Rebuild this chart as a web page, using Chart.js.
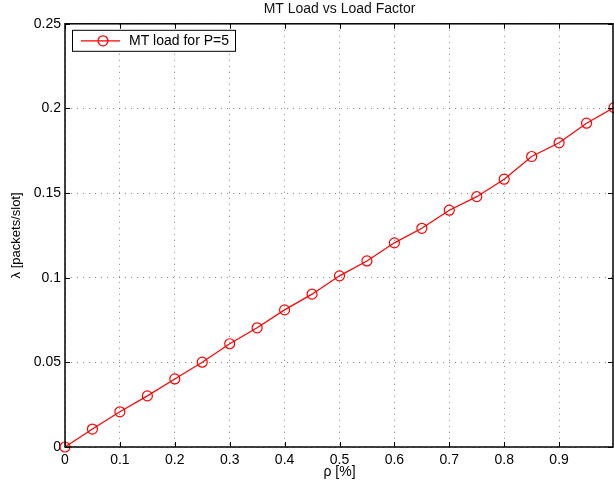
<!DOCTYPE html>
<html>
<head>
<meta charset="utf-8">
<script src="https://cdn.jsdelivr.net/npm/chart.js@4/dist/chart.umd.min.js"></script>
<style>
  html, body { margin: 0; padding: 0; background: #fff; overflow: hidden; }
  #wrap { width: 614px; height: 481px; position: relative; }
</style>
</head>
<body>
<div id="wrap"><canvas id="myChart"></canvas></div>
<script>
  const rho = [0, 0.05, 0.1, 0.15, 0.2, 0.25, 0.3, 0.35, 0.4, 0.45, 0.5,
               0.55, 0.6, 0.65, 0.7, 0.75, 0.8, 0.85, 0.9, 0.95, 1.0];
  const mtLoad = [0, 0.0106, 0.0208, 0.0302, 0.0402, 0.0501, 0.061, 0.0704, 0.081, 0.0903, 0.1011,
                  0.1099, 0.1206, 0.1292, 0.1399, 0.1479, 0.1582, 0.1716, 0.1797, 0.1913, 0.2005];
  const xTicks = [0, 0.1, 0.2, 0.3, 0.4, 0.5, 0.6, 0.7, 0.8, 0.9];
  const yTicks = [0, 0.05, 0.1, 0.15, 0.2, 0.25];

  const font = { family: '"Liberation Sans", Arial, sans-serif', size: 14 };

  // box round the axes, inward ticks and the legend in the top left corner
  const matlabFrame = {
    id: 'matlabFrame',
    afterDraw(chart) {
      const { ctx, chartArea: a, scales: { x, y } } = chart;
      ctx.save();
      ctx.strokeStyle = '#000';
      ctx.lineWidth = 1.5;
      ctx.strokeRect(a.left, a.top, a.right - a.left - 1, a.bottom - a.top);

      ctx.lineWidth = 1;
      ctx.beginPath();
      xTicks.forEach(v => {
        const px = Math.round(x.getPixelForValue(v)) + 0.5;
        ctx.moveTo(px, a.bottom); ctx.lineTo(px, a.bottom - 5);
        ctx.moveTo(px, a.top); ctx.lineTo(px, a.top + 5);
      });
      yTicks.forEach(v => {
        const py = Math.round(y.getPixelForValue(v)) + 0.5;
        ctx.moveTo(a.left, py); ctx.lineTo(a.left + 5, py);
        ctx.moveTo(a.right - 1, py); ctx.lineTo(a.right - 6, py);
      });
      ctx.stroke();

      // legend
      const ds = chart.data.datasets[0];
      const bx = a.left + 7, by = a.top + 6, bw = 163, bh = 21;
      ctx.fillStyle = '#fff';
      ctx.fillRect(bx, by, bw, bh);
      ctx.strokeStyle = '#000';
      ctx.lineWidth = 1;
      ctx.strokeRect(bx + 0.5, by + 0.5, bw, bh);
      const ly = by + 11;
      ctx.strokeStyle = ds.borderColor;
      ctx.lineWidth = 1.2;
      ctx.beginPath();
      ctx.moveTo(bx + 9, ly); ctx.lineTo(bx + 48, ly);
      ctx.stroke();
      ctx.beginPath();
      ctx.arc(bx + 31, ly, 5, 0, Math.PI * 2);
      ctx.stroke();
      ctx.fillStyle = '#000';
      ctx.font = font.size + 'px ' + font.family;
      ctx.textBaseline = 'middle';
      ctx.fillText(ds.label, bx + 57, ly);
      ctx.restore();
    }
  };

  const data = {
    datasets: [{
      label: 'MT load for P=5',
      data: rho.map((r, i) => ({ x: r, y: mtLoad[i] })),
      borderColor: '#ff0000',
      backgroundColor: 'rgba(0,0,0,0)',
      borderWidth: 1.2,
      pointRadius: 5,
      pointBorderWidth: 1.2,
      pointBackgroundColor: 'rgba(0,0,0,0)',
      pointBorderColor: '#ff0000',
      tension: 0,
      clip: false
    }]
  };

  const config = {
    type: 'line',
    data: data,
    options: {
      responsive: true,
      maintainAspectRatio: false,
      animation: false,
      layout: { autoPadding: false, padding: 0 },
      plugins: {
        legend: { display: false },
        tooltip: { enabled: false },
        title: {
          display: true,
          text: 'MT Load vs Load Factor',
          fullSize: false,
          color: '#111',
          font: { family: font.family, size: 14, weight: 'normal' },
          padding: { top: 1, bottom: 6 }
        }
      },
      scales: {
        x: {
          type: 'linear',
          min: 0,
          max: 1,
          afterBuildTicks: s => { s.ticks = xTicks.map(v => ({ value: v })); },
          afterFit: s => { s.height = 34; s.paddingRight = 0; s.paddingLeft = 0; },
          ticks: { color: '#000', font: font, padding: 5, maxRotation: 0,
                   callback: v => String(v) },
          grid: { color: '#888', drawTicks: false, lineWidth: 1 },
          border: { display: false, dash: [1, 5] },
          title: { display: true, text: 'ρ [%]', color: '#000', font: { family: font.family, size: 14 },
                   padding: { top: 0, bottom: 0 } }
        },
        y: {
          type: 'linear',
          min: 0,
          max: 0.25,
          afterBuildTicks: s => { s.ticks = yTicks.map(v => ({ value: v })); },
          afterFit: s => { s.width = 65; },
          ticks: { color: '#000', font: font, padding: 4, callback: v => String(v) },
          grid: { color: '#888', drawTicks: false, lineWidth: 1 },
          border: { display: false, dash: [1, 5] },
          title: { display: true, text: 'λ [packets/slot]', color: '#000', font: { family: font.family, size: 13 },
                   padding: { top: 9, bottom: 0 } }
        }
      }
    },
    plugins: [matlabFrame]
  };

  const myChart = new Chart(document.getElementById('myChart'), config);
</script>
</body>
</html>
